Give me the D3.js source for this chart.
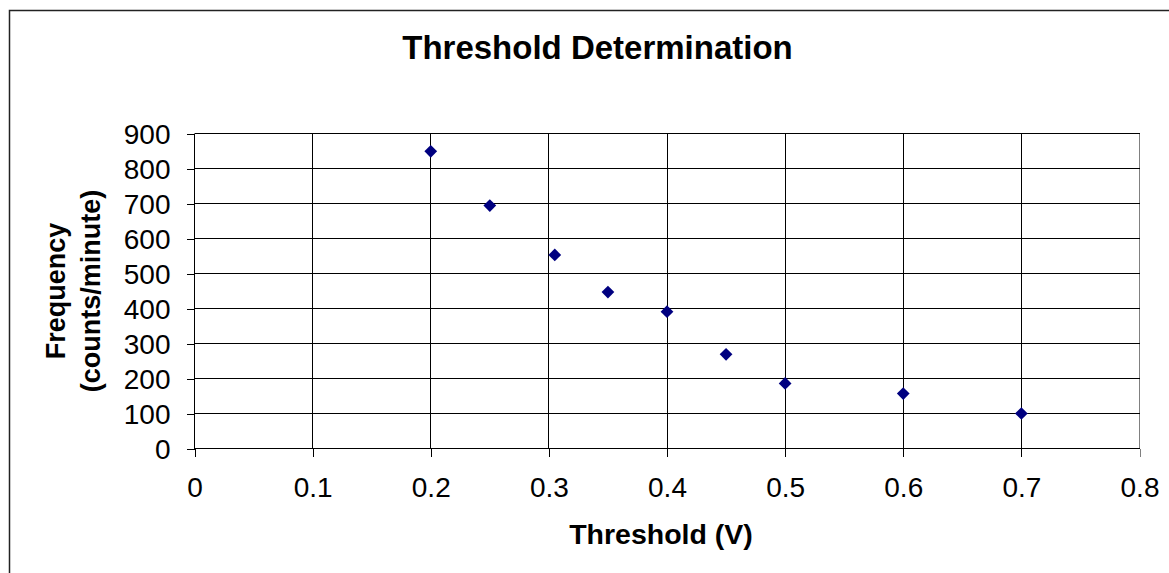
<!DOCTYPE html>
<html>
<head>
<meta charset="utf-8">
<script src="https://cdn.jsdelivr.net/npm/d3@7/dist/d3.min.js"></script>
<style>
  html, body { margin: 0; padding: 0; background: #fff; }
  svg { display: block; }
  text { font-family: "Liberation Sans", Arial, sans-serif; fill: #000; }
</style>
</head>
<body>
<svg id="chart" width="1169" height="573"></svg>
<script>
// ---- data ----
const thresholdV = [0.2, 0.25, 0.305, 0.35, 0.4, 0.45, 0.5, 0.6, 0.7];
const frequency = [849, 694, 553, 447, 391, 269, 186, 157, 100];
const xTicks = [0, 0.1, 0.2, 0.3, 0.4, 0.5, 0.6, 0.7, 0.8];
const yTicks = [0, 100, 200, 300, 400, 500, 600, 700, 800, 900];
const titleText = "Threshold Determination";
const xTitleText = "Threshold (V)";
const yTitleLines = ["Frequency", "(counts/minute)"];

const svg = d3.select("#chart");
const W = 1169, H = 573;
const pL = 194.5, pR = 1139.5, pT = 133.5, pB = 448.5;

const x = d3.scaleLinear().domain([0, 0.8]).range([pL, pR]);
const y = d3.scaleLinear().domain([0, 900]).range([pB, pT]);

// outer chart border
svg.append("rect")
  .attr("x", 9.5).attr("y", 10.5)
  .attr("width", W + 20).attr("height", H + 20)
  .attr("fill", "#fff").attr("stroke", "#222").attr("stroke-width", 1.5);

// plot area border (gray)
svg.append("rect")
  .attr("x", pL).attr("y", pT)
  .attr("width", pR - pL).attr("height", pB - pT)
  .attr("fill", "none").attr("stroke", "#808080").attr("stroke-width", 1.2)
  .attr("shape-rendering", "crispEdges");

// horizontal gridlines
svg.append("g").selectAll("line")
  .data(yTicks.filter(d => d > 0))
  .join("line")
  .attr("x1", pL).attr("x2", pR)
  .attr("y1", d => y(d)).attr("y2", d => y(d))
  .attr("stroke", "#000").attr("stroke-width", 1)
  .attr("shape-rendering", "crispEdges");

// vertical gridlines
svg.append("g").selectAll("line")
  .data(xTicks.filter(d => d > 0 && d < 0.8))
  .join("line")
  .attr("x1", d => x(d)).attr("x2", d => x(d))
  .attr("y1", pT).attr("y2", pB)
  .attr("stroke", "#000").attr("stroke-width", 1)
  .attr("shape-rendering", "crispEdges");

// y axis
const yAxis = svg.append("g")
  .attr("transform", `translate(${pL},0)`)
  .call(d3.axisLeft(y).tickValues(yTicks).tickSize(8).tickPadding(16).tickFormat(d3.format("d")));
yAxis.selectAll("path, line").attr("stroke", "#000").attr("shape-rendering", "crispEdges");
yAxis.select(".domain").attr("d", `M0,${pT}V${pB}`);
yAxis.selectAll("text")
  .style("font-family", '"Liberation Sans", Arial, sans-serif')
  .style("font-size", "28px").attr("fill", "#000").attr("dy", "0.36em");

// x axis
const xAxis = svg.append("g")
  .attr("transform", `translate(0,${pB})`)
  .call(d3.axisBottom(x).tickValues(xTicks).tickSize(8).tickPadding(21).tickFormat(d => d === 0 ? "0" : d3.format(".1f")(d)));
xAxis.selectAll("path, line").attr("stroke", "#000").attr("shape-rendering", "crispEdges");
xAxis.select(".domain").attr("d", `M${pL},0H${pR}`);
xAxis.selectAll(".tick line").filter(d => d === 0.8).attr("stroke", "#808080");
xAxis.selectAll("text")
  .style("font-family", '"Liberation Sans", Arial, sans-serif')
  .style("font-size", "28px").attr("fill", "#000");

// markers
const diamond = d3.symbol().type(d3.symbolSquare).size(81);
svg.append("g").selectAll("path")
  .data(thresholdV.map((v, i) => ({ v, f: frequency[i] })))
  .join("path")
  .attr("d", diamond)
  .attr("transform", d => `translate(${x(d.v)},${y(d.f)}) rotate(45)`)
  .attr("fill", "#000080");

// title
svg.append("text")
  .attr("x", 597.5).attr("y", 59)
  .attr("text-anchor", "middle")
  .style("font-size", "33px").style("font-weight", "bold")
  .text(titleText);

// x axis title
svg.append("text")
  .attr("x", 661).attr("y", 544)
  .attr("text-anchor", "middle")
  .style("font-size", "28.5px").style("font-weight", "bold")
  .text(xTitleText);

// y axis title
svg.append("g").selectAll("text")
  .data(yTitleLines)
  .join("text")
  .attr("transform", (d, i) => `translate(${i === 0 ? 65 : 100},${(pT + pB) / 2}) rotate(-90)`)
  .attr("text-anchor", "middle")
  .style("font-size", "27px").style("font-weight", "bold")
  .text(d => d);
</script>
</body>
</html>
